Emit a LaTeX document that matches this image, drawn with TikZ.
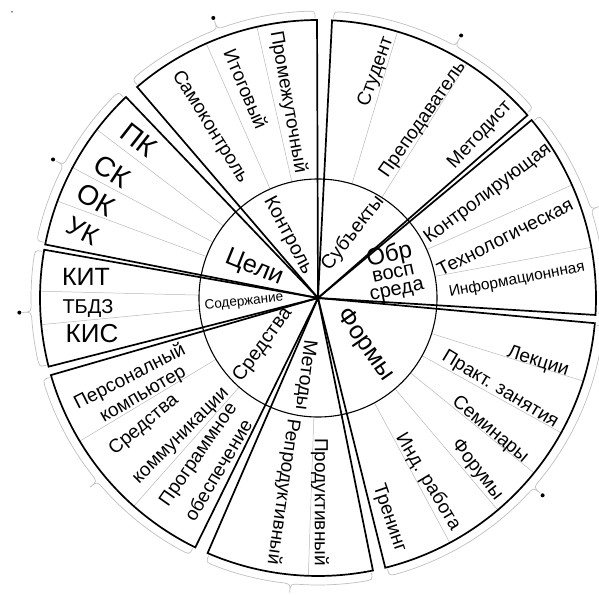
\documentclass[tikz,border=0pt]{standalone}
\usepackage{fontspec}
\setmainfont{Liberation Sans}
\begin{document}
\begin{tikzpicture}[x=1pt,y=1pt,
  sect/.style={line width=1.7pt, line join=miter},
  divl/.style={gray!55, line width=0.5pt},
  brc/.style={gray!50, line width=0.7pt},
  lab/.style={inner sep=0pt, font=\fontsize{19}{23}\selectfont, align=center},
  smalllab/.style={inner sep=0pt, font=\fontsize{15.5}{17}\selectfont},
  biglab/.style={inner sep=0pt, font=\fontsize{28}{30}\selectfont},
  inlab/.style={inner sep=0pt, font=\fontsize{19.5}{21}\selectfont},
  dotm/.style={fill=black, circle, inner sep=0pt, minimum size=4pt}
]
\useasboundingbox (-318,-296) rectangle (281,298);
\coordinate (c) at (0,0);
\newcommand\wsector[2]{\draw[sect] (c) -- (#1:278) arc[start angle=#1, end angle=#2, radius=278] -- cycle;}
\newcommand\wdiv[1]{\draw[divl] (#1:119) -- (#1:278);}
\newcommand\wbrace[3]{%
  \draw[brc] (#1:280) .. controls (#1:287) and (#1:287) .. (#1+2:287)
    arc[start angle=#1+2, end angle=#3-2, radius=287]
    .. controls (#3:287) and (#3:287) .. (#3:296)
    .. controls (#3:287) and (#3:287) .. (#3+2:287)
    arc[start angle=#3+2, end angle=#2-2, radius=287]
    .. controls (#2:287) and (#2:287) .. (#2:280);}
% braces
\wbrace{90.6}{130.3}{110.5}
\wbrace{41.5}{86.8}{61.4}
\wbrace{-3.1}{39.4}{18}
\wbrace{-75.6}{-5.6}{-41.3}
\wbrace{-113}{-79}{-95.5}
\wbrace{-163.5}{-116.6}{-140.3}
\wbrace{170.4}{193.9}{182.8}
\wbrace{134.1}{168.5}{152.4}
\node[dotm] (d1) at (110.5:299) {};
\node[dotm] (d2) at (61.4:299) {};
\node[dotm] (d3) at (-41.3:299) {};
\node[dotm] (d4) at (182.8:299) {};
\node[dotm] (d5) at (152.4:299) {};
\node[fill=black, circle, inner sep=0pt, minimum size=1.5pt] (d6) at (-306,286) {};
% dividers
\wdiv{102.7}\wdiv{113.7}
\wdiv{57.6}\wdiv{73.4}
\wdiv{10.5}\wdiv{24}
\wdiv{-17.4}\wdiv{-29}\wdiv{-39}\wdiv{-49.7}\wdiv{-61.7}
\wdiv{-92}
\wdiv{-131.5}\wdiv{-149}
\wdiv{178.6}\wdiv{-174.5}
\wdiv{142.7}\wdiv{152}\wdiv{159.6}
% inner circle
\draw[line width=1.1pt] (c) circle[radius=119];
% sectors
\wsector{90.2}{130.6}
\wsector{41.1}{87.1}
\wsector{-3.5}{39.8}
\wsector{-76}{-5.2}
\wsector{-113.4}{-78.6}
\wsector{-163.9}{-116.2}
\wsector{170}{194.3}
\wsector{133.7}{168.9}
% outer labels
\node[lab, rotate=-58] (samo) at (-108,171) {Самоконтроль};
\node[lab, rotate=-67] (itog) at (-72,209) {Итоговый};
\node[lab, rotate=-80] (prom) at (-30,196) {Промежуточный};
\node[lab, rotate=70] (stud) at (58,226) {Студент};
\node[lab, rotate=55] (prep) at (105,178) {Преподаватель};
\node[lab, rotate=47] (meto) at (162,163) {Методист};
\node[lab, rotate=37] (kont) at (170,104) {Контролирующая};
\node[lab, rotate=27] (tekh) at (187,61) {Технологическая};
\node[smalllab, rotate=10.7] (info) at (199,18) {Информационнная};
\node[lab, rotate=-18] (lek) at (220,-64) {Лекции};
\node[lab, rotate=-31] (prak) at (182,-92) {Практ. занятия};
\node[lab, rotate=-40] (sem) at (172,-132) {Семинары};
\node[lab, rotate=-52] (for) at (159,-172) {Форумы};
\node[lab, rotate=-59] (ind) at (110,-184) {Инд. работа};
\node[lab, rotate=-71] (tren) at (71,-220) {Тренинг};
\node[lab, rotate=-90] (prod) at (2,-204) {Продуктивный};
\node[lab, rotate=-98] (repr) at (-35,-194) {Репродуктивный};
\node[lab, rotate=55] (prog1) at (-119,-157) {Программное};
\node[lab, rotate=59] (prog2) at (-100,-172) {обеспечение};
\node[lab, rotate=40] (komm1) at (-174,-127) {Средства};
\node[lab, rotate=45] (komm2) at (-136,-139) {коммуникации};
\node[lab, rotate=27] (pers1) at (-188,-79) {Персоналный};
\node[lab, rotate=30] (pers2) at (-174,-98) {компьютер};
\node[biglab, rotate=-38] (pk) at (-179,158) {ПК};
\node[biglab, rotate=-33] (sk) at (-206,127) {СК};
\node[biglab, rotate=-30] (ok) at (-222,98) {ОК};
\node[biglab, rotate=-27, font=\fontsize{26}{28}\selectfont] (uk) at (-235,67) {УК};
\node[biglab, font=\fontsize{25}{28}\selectfont] (kit) at (-232,21) {КИТ};
\node[biglab, font=\fontsize{20}{22}\selectfont] (tbdz) at (-230,-11) {ТБДЗ};
\node[biglab, font=\fontsize{26}{28}\selectfont] (kis) at (-226,-36) {КИС};
% inner labels
\node[inlab, rotate=-22, font=\fontsize{25}{27}\selectfont] (celi) at (-64,30) {Цели};
\node[inlab, rotate=6, font=\fontsize{13.5}{15}\selectfont] (sod) at (-74,-4) {Содержание};
\node[inlab, rotate=-62] (kontr) at (-30,62) {Контроль};
\node[inlab, rotate=52] (sub) at (35,65) {Субъекты};
\node[inlab, rotate=12, align=center, font=\fontsize{20}{17}\selectfont] (obr) at (75,26) {{\fontsize{24}{23}\selectfont Обр}\\восп\\среда};
\node[inlab, rotate=-55, font=\fontsize{25}{27}\selectfont] (form) at (47,-47) {Формы};
\node[inlab, rotate=-97] (met) at (-13,-77) {Методы};
\node[inlab, rotate=54] (sred) at (-55,-47) {Средства};
\end{tikzpicture}
\end{document}
